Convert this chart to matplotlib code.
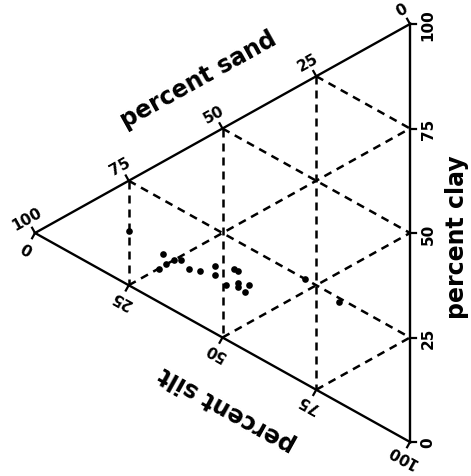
import numpy as np
import matplotlib.pyplot as plt

# grid / tick levels, percent
ticks = [0, 25, 50, 75, 100]
grid = [25, 50, 75]

# sample composition, percent
sand = [75, 66, 67, 65, 63, 61, 59, 56, 52, 52, 47, 46, 49, 46, 46, 43, 44, 28, 19]
silt = [12, 22, 25, 25, 25, 26, 29, 31, 32, 34, 35, 36, 38, 39, 40, 41, 42, 47, 57]
clay = [13, 12, 8, 10, 12, 13, 12, 13, 16, 14, 18, 18, 13, 15, 14, 16, 14, 25, 24]

# px per unit of the triangle (width, height) - triangle is a bit stretched
W, H = 375.0, 418.0


def xy(sa, si, cl):
    s = sa + si + cl
    return (si + cl) / s, 0.5 * (cl - si) / s


def off(x, y, dxp, dyp):
    # shift a data point by some pixels (dyp positive = down)
    return x + dxp / W, y - dyp / H


fig = plt.figure(figsize=(4.71, 4.77), dpi=100)
ax = fig.add_axes([0, 0, 1, 1])
ax.set_xlim(-35 / W, (471 - 35) / W)
ax.set_ylim((234 - 477) / H, 234 / H)
ax.axis('off')

# outline
L, T, B = xy(100, 0, 0), xy(0, 0, 100), xy(0, 100, 0)
ax.plot([L[0], T[0], B[0], L[0]], [L[1], T[1], B[1], L[1]], color='black', lw=1.7,
        solid_joinstyle='miter')

# dashed grid
dash = dict(color='black', lw=1.8, dashes=(3.2, 2.4))
for v in grid:
    a, b = xy(v, 0, 100 - v), xy(v, 100 - v, 0)
    ax.plot([a[0], b[0]], [a[1], b[1]], **dash)
    a, b = xy(100 - v, 0, v), xy(0, 100 - v, v)
    ax.plot([a[0], b[0]], [a[1], b[1]], **dash)
    a, b = xy(100 - v, v, 0), xy(0, v, 100 - v)
    ax.plot([a[0], b[0]], [a[1], b[1]], **dash)

# outward normals in pixels (y down)
ang = np.degrees(np.arctan((H / 2) / W))
n_top = (-np.sin(np.radians(ang)), -np.cos(np.radians(ang)))
n_bot = (-np.sin(np.radians(ang)), np.cos(np.radians(ang)))
tl = 6
tick_font = dict(fontsize=11, fontweight='bold', ha='center', va='center')

for v in ticks:
    # sand on the upper edge
    x0, y0 = xy(v, 0, 100 - v)
    x1, y1 = off(x0, y0, tl * n_top[0], tl * n_top[1])
    ax.plot([x0, x1], [y0, y1], color='black', lw=1.6)
    tx, ty = off(x0, y0, 17 * n_top[0], 17 * n_top[1])
    ax.text(tx, ty, str(v), rotation=ang, **tick_font)
    # silt on the lower edge
    x0, y0 = xy(100 - v, v, 0)
    x1, y1 = off(x0, y0, tl * n_bot[0], tl * n_bot[1])
    ax.plot([x0, x1], [y0, y1], color='black', lw=1.6)
    tx, ty = off(x0, y0, 15 * n_bot[0], 15 * n_bot[1])
    ax.text(tx, ty, str(v), rotation=180 - ang, **tick_font)
    # clay on the right edge
    x0, y0 = xy(0, 100 - v, v)
    x1, y1 = off(x0, y0, tl, 0)
    ax.plot([x0, x1], [y0, y1], color='black', lw=1.6)
    tx, ty = off(x0, y0, 18, 0)
    ax.text(tx, ty, str(v), rotation=90, **tick_font)

# axis titles
title_font = dict(fontsize=17, fontweight='bold', ha='center', va='center')
mx, my = off(*xy(50, 0, 50), -24, -50)
ax.text(mx, my, 'percent sand', rotation=ang, **title_font)
mx, my = off(*xy(50, 50, 0), 5, 71)
ax.text(mx, my, 'percent silt', rotation=180 - ang, **title_font)
mx, my = off(*xy(0, 50, 50), 47, 3)
ax.text(mx, my, 'percent clay', rotation=90, **title_font)

# samples
px, py = xy(np.array(sand), np.array(silt), np.array(clay))
ax.plot(px, py, 'o', color='black', ms=4.8, mec='none')

fig.savefig('out.png', dpi=100)
